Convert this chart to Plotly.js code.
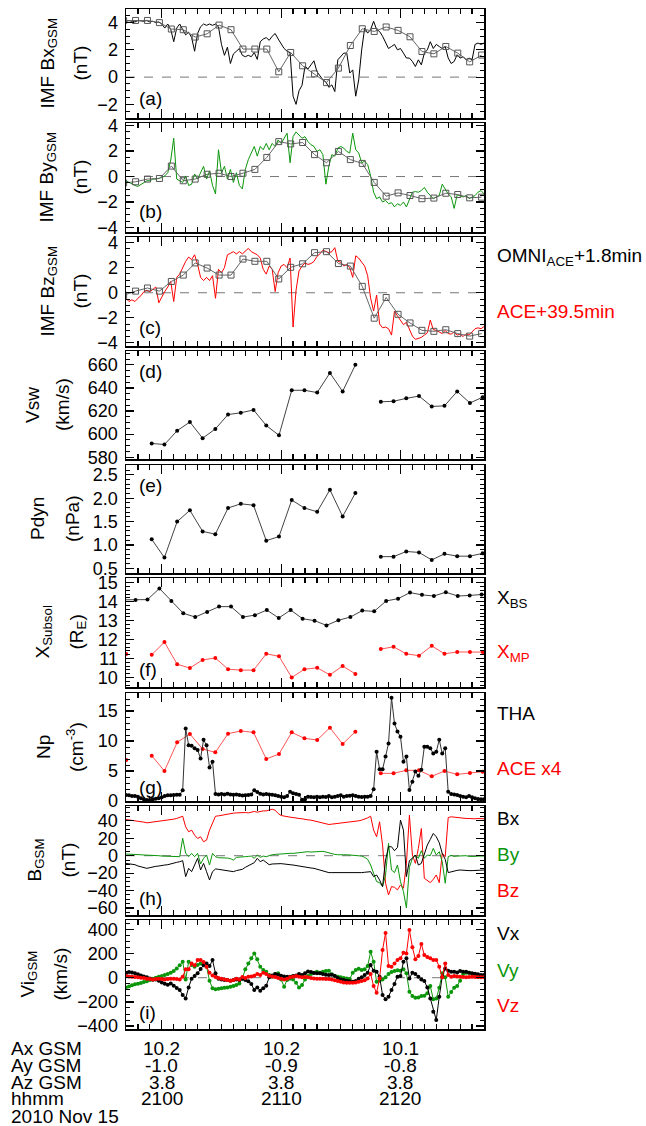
<!DOCTYPE html>
<html><head><meta charset="utf-8">
<script src="https://cdn.plot.ly/plotly-3.0.1.min.js"></script>
<style>html,body{margin:0;padding:0;background:#fff}</style>
</head><body><div id="chart" style="width:646px;height:1126px"></div>
<script>
// ---- sample time grids (minutes relative to 21:00 UT, 2010 Nov 15) ----
const aceStart = -3, aceStep = 0.25;      // ACE MAG (shifted) and THEMIS-A samples
const omniStart = -3.2, omniStep = 1;     // OMNI 1-min (+1.8 min)
const swStart = -2.98, swStep = 1.0667;   // ACE SWEPAM 64-s (+39.5 min)

// ---- (a) IMF Bx ----
const aceBx = [4.1,4.15,4.1,4.05,4.15,4.1,4.1,4.15,4.05,4.1,4.0,4.05,
 3.9,3.6,3.9,3.5,2.6,3.6,3.9,3.5,3.1,3.3,2.9,1.9,
 3.2,3.7,3.9,3.8,3.9,3.8,3.9,3.7,2.4,1.6,2.2,1.0,
 1.7,1.9,2.1,1.6,1.5,1.6,1.5,1.8,1.3,2.6,2.8,2.9,
 2.7,3.0,3.2,2.8,2.4,2.1,1.9,1.8,-1.4,-2.0,-1.0,-0.6,
 0.8,0.6,0.9,1.2,0.4,0.1,-0.2,-0.35,-0.75,
 -0.57,-1.06,1.27,1.5,1.76,1.76,0.3,0.53,-1.4,-0.2,2.0,3.6,
 3.23,3.5,4.1,3.5,3.35,3.0,2.6,2.1,2.25,2.4,2.0,2.1,
 1.76,1.4,1.4,1.15,0.78,1.27,0.9,1.76,2.0,2.6,2.1,2.4,
 2.25,2.1,2.25,1.4,1.0,1.15,1.64,1.4,1.5,1.27,1.4,1.27,
 2.4,2.5,2.4,2.5];
const omniBx = [4.15,4.16,4.16,4.0,3.53,3.48,2.94,3.18,3.82,3.48,2.06,2.06,2.06,0.39,1.81,0.83,0.24,-0.4,0.66,2.32,3.55,3.35,3.68,3.43,2.96,1.88,1.71,2.25,1.76,1.12,1.62];

// ---- (b) IMF By ----
const aceBy = [-0.33,-0.46,-0.6,-0.7,-0.77,-0.6,-0.46,-0.33,-0.33,-0.2,-0.2,-0.15,
 -0.08,0.05,0.3,1.3,3.0,-0.2,-0.33,-0.46,0.05,-0.7,-0.6,0.2,
 -0.2,0.3,0.8,-0.2,0.44,-0.7,-1.36,2.1,0.3,0.8,-0.2,0.56,
 -0.46,0.3,-0.7,-0.97,0.56,1.33,1.85,2.36,1.6,2.36,2.1,2.6,
 2.1,2.6,2.36,2.87,2.6,3.0,3.4,1.08,3.13,3.5,3.26,3.0,
 3.13,2.74,2.5,2.36,1.97,2.1,1.72,-0.6,0.82,
 1.72,1.6,2.23,2.36,2.23,1.97,1.85,3.4,2.1,1.85,1.08,1.2,
 0.95,0.05,-1.23,-1.74,-1.6,-2.0,-1.87,-2.13,-2.05,-2.38,-2.13,-2.26,
 -2.0,-2.38,-1.74,-1.23,-1.18,-1.23,-1.1,-0.85,-1.23,-1.49,-1.74,-1.6,
 -1.49,-0.6,-0.97,-1.36,-1.6,-2.5,-1.43,-1.49,-1.6,-1.49,-1.74,-1.6,
 -1.49,-1.23,-1.1,-1.36];
const omniBy = [-0.5,-0.41,-0.2,-0.15,0.82,-0.33,-0.2,0.18,0.26,0,0.26,0.56,1.5,2.74,2.56,2.67,1.72,1.08,1.97,1.33,1.03,-0.46,-1.54,-1.28,-1.49,-1.74,-1.69,-1.31,-1.41,-1.67,-1.62];

// ---- (c) IMF Bz ----
const aceBz = [-0.44,-0.7,-0.56,-0.7,-0.44,-0.23,0.08,0.2,0.08,0.28,0.46,-0.8,
 -0.3,0.1,0.46,0.9,-0.7,1.23,1.49,2.0,2.5,2.85,2.64,3.03,
 2.26,1.23,0.97,1.23,0.97,1.36,-0.44,1.87,1.6,2.0,3.03,3.15,
 3.28,3.1,3.28,3.1,3.36,3.54,3.28,3.15,3.03,2.77,1.87,1.49,
 2.13,1.87,0.1,1.6,2.13,2.26,2.0,2.77,-2.74,0.2,1.74,2.13,
 2.38,2.26,2.33,2.5,2.9,3.1,3.4,3.3,3.2,
 3.28,3.6,2.51,2.44,2.13,2.26,2.0,1.23,2.95,2.77,2.44,2.13,
 1.36,-0.44,-1.46,-0.18,-2.49,-2.8,-2.74,-2.87,-3.38,-1.46,-1.85,-2.23,
 -2.54,-2.36,-2.87,-3.46,-3.72,-3.64,-3.56,-3.38,-3.2,-2.18,-2.95,-3.0,
 -3.13,-3.26,-3.0,-3.26,-3.3,-3.13,-3.38,-3.3,-3.5,-3.26,-3.38,-3.13,
 -2.87,-2.8,-2.87,-2.7];
const omniBz = [-0.2,0.13,0.38,0.13,0.9,1.41,2.38,1.97,1.41,1.41,2.69,2.51,2.51,1.1,2.03,2.31,3.2,3.28,2.33,2.13,0.51,-2.03,-0.38,-1.72,-2.41,-3.0,-3.08,-2.95,-3.26,-3.46,-3.26];

// ---- (d) Vsw, (e) Pdyn : ACE SWEPAM ----
const vsw = [null,null,592,591,603,610.5,596.5,604.5,617,618.5,621,607.5,599,638,638,636,653,637,660,null,628,628.5,631,633,624,624.5,637,627,632];
const pdyn = [null,null,1.12,0.73,1.5,1.74,1.29,1.23,1.79,1.88,1.85,1.09,1.18,1.96,1.79,1.71,2.18,1.61,2.11,null,0.75,0.75,0.86,0.84,0.68,0.81,0.76,0.76,0.82];

// ---- (f) subsolar distances ----
const xBS = [14.1,14.09,14.11,14.7,14.04,13.39,13.19,13.46,13.74,13.74,13.19,13.29,13.56,13.14,13.56,13.1,13.0,12.75,13.02,13.19,13.53,13.49,14.04,14.16,14.48,14.36,14.3,14.5,14.3,14.33,14.38];
const xMP = [11.24,null,11.2,11.87,10.7,10.5,10.93,11.03,10.44,10.39,10.39,11.25,11.12,10.0,10.44,10.51,10.14,10.61,10.19,null,11.5,11.62,11.25,11.15,11.67,11.25,11.35,11.35,11.34];

// ---- (g) density ----
const thaNp = [1.0,0.94,0.83,0.83,0.72,0.44,0.28,0.17,0.17,0.28,0.39,0.44,
 0.61,0.83,0.94,0.94,1.0,1.05,1.05,1.8,12.1,9.3,9.2,8.8,
 8.5,7.1,10.2,9.3,5.6,6.55,1.15,1.1,1.15,1.1,1.2,1.1,
 1.05,1.1,1.0,0.9,0.94,1.0,1.1,1.8,1.5,1.2,1.1,1.15,
 1.1,1.05,0.94,0.83,0.72,0.61,0.83,1.55,1.28,1.15,1.05,0.2,
 0.3,0.72,0.67,0.61,0.72,0.61,0.72,0.67,0.83,
 0.61,0.72,0.83,0.94,0.72,0.83,0.89,0.94,0.83,0.72,0.67,0.72,
 0.72,0.83,1.94,8.2,5.3,5.3,7.4,9.6,17.2,12.9,11.6,10.7,
 6.55,7.4,1.83,3.2,4.9,4.2,5.2,9.05,9.05,8.8,7.9,8.2,
 10.2,7.9,8.8,1.55,1.15,1.1,1.0,0.83,0.72,0.61,0.83,0.61,
 0.44,0.33,0.28,0.28];
const aceNp4 = [6.83,null,7.56,5.0,9.78,11.17,8.67,8.11,11.22,11.67,11.44,7.0,7.83,11.44,10.44,10.17,12.22,9.5,11.56,null,4.61,4.61,5.11,5.11,4.11,5.0,4.44,4.67,4.89];

// ---- (h) THEMIS-A B GSM ----
const thBx = [-8.8,-9.1,-9.5,-10.3,-11.8,-13.0,-13.7,-14.5,-13.7,-12.6,-12.2,-11.8,
 -11.0,-10.7,-10.3,-9.1,-8.4,-7.6,-6.9,-5.7,-24.0,-14.5,-18.3,-10.7,
 -3.0,-16.4,-8.8,-18.3,-27.8,-18.3,-15.2,-15.6,-16.0,-16.4,-16.8,-17.5,
 -18.3,-17.1,-16.4,-15.6,-13.3,-11.8,-9.5,-8.0,-3.0,-6.9,-5.0,-8.0,
 -10.3,-9.5,-9.1,-8.8,-9.1,-9.5,-9.5,-10.3,-10.7,-11.4,-11.8,-12.6,
 -13.3,-13.7,-14.1,-14.5,-15.6,-16.4,-17.5,-18.3,-19.4,
 -19.4,-19.4,-19.4,-19.4,-19.8,-20.2,-20.2,-19.8,-19.8,-19.4,-19.4,-19.0,
 -18.7,-18.3,-24.0,-22.1,-27.8,-35.4,-5.0,10.3,10.3,5.7,9.5,40.8,
 29.3,-24.0,-5.7,-3.0,0.8,-10.7,-8.8,1.9,12.2,18.7,25.5,21.7,
 14.9,2.7,-4.2,-19.4,-18.3,-17.1,-16.8,-16.4,-16.8,-17.1,-17.1,-17.1,
 -16.8,-16.4,-16.4,-16.4];
const thBy = [1.9,1.9,1.5,1.5,1.1,1.1,0.8,0.8,0.4,0.4,0,0,
 -0.4,-0.4,-0.4,-0.8,-0.8,-1.1,-1.1,20,3,-1.1,2.7,-1.1,
 2.7,-9.5,-3.0,0.8,-10.7,2.7,-1.1,-2.3,-2.3,-2.3,-2.7,-3.4,
 -5.0,-1.9,-1.9,-1.5,-1.1,-0.8,-0.4,-3.0,0.8,-1.9,-0.4,-1.1,
 0.4,1.1,1.5,1.9,1.9,2.3,2.7,2.7,2.7,3.0,3.4,3.8,
 4.6,4.6,4.2,4.6,4.6,5.0,5.0,4.2,3.0,
 1.9,1.5,1.1,0.8,1.1,1.1,0.8,0.8,0.4,0,-0.4,-1.9,
 -4.2,-10.7,-19.4,-29.7,-30.9,-35.4,-22.1,14.1,-16.4,-19.4,-10.7,-29.7,
 -41.1,-60,-13.3,-3.0,0.8,-3.0,5.7,-3.0,0.8,0,8.4,0.8,
 4.6,-6.9,-31.6,-1.1,0.4,-0.8,-0.4,0,0,0,-0.8,-1.1,
 -0.8,-0.4,-0.4,-0.4];
const thBz = [41.5,41.1,40.8,40.0,39.2,38.9,38.5,37.7,38.1,38.9,39.6,40.0,
 40.4,40.8,41.1,41.5,41.9,42.7,43.8,45.3,33.1,27.4,29.3,23.6,
 19.8,21.7,16.0,17.9,29.3,37.0,45.3,45.7,46.5,46.9,47.6,48.0,
 48.8,49.1,49.5,49.1,49.5,49.1,49.9,50.7,49.9,51.0,51.4,51.4,
 52.2,53.3,52.2,48.4,46.1,45.3,44.6,44.2,43.8,43.0,42.7,42.3,
 41.5,41.1,40.8,40.0,38.9,37.7,37.0,36.2,35.8,
 36.2,36.6,37.0,37.0,37.7,38.1,38.9,39.2,39.6,40.0,40.8,41.9,
 43.4,45.3,29.3,21.7,38.9,12.2,-31.6,-45,-35.4,-36.2,-39.2,-33.5,
 -37.3,-8.8,46.5,0.8,-8.8,8.4,31.2,-25.9,-28.6,-30.9,-27.0,-22.1,
 -30.9,2.7,-1.1,43.8,44.6,44.2,43.4,43.0,43.0,42.7,42.7,42.3,
 42.3,42.7,42.7,42.3];

// ---- (i) THEMIS-A ion velocity GSM ----
const thVx = [36,47,44,36,28,19,11,3,-6,-17,-14,-25,
 -39,-50,-58,-47,-66,-85,-102,-143,-171,-80,-8,14,
 36,72,102,118,96,146,36,-8,-14,-19,-19,-25,
 -19,-14,-19,-8,-19,-30,-52,-102,-80,-107,-88,-66,
 3,19,30,25,17,11,8,8,14,19,30,22,
 36,52,47,39,36,36,30,25,22,
 25,14,-3,-14,-19,-25,-30,-33,-28,-8,3,22,
 41,105,58,50,8,-143,-179,-157,-102,-52,8,14,
 132,160,-6,41,30,8,-14,-28,-80,-171,-281,-350,
 -157,8,77,58,50,50,44,55,50,50,41,36,
 33,28,22,22];
const thVy = [-80,-72,-63,-55,-50,-44,-36,-30,-19,-8,0,8,
 14,22,30,41,55,77,102,132,-14,132,105,91,
 105,118,124,91,-25,-88,-96,-91,-88,-83,-80,-74,
 -69,-61,-47,-6,69,118,160,201,152,91,63,50,
 22,8,30,36,-14,-74,-19,-8,-14,-41,-80,-61,
 -14,14,30,41,50,41,50,55,58,
 28,17,8,3,-3,-6,-11,41,63,74,63,69,
 96,215,132,-33,-25,-14,3,30,47,55,61,58,
 69,36,-116,-152,-165,-163,-152,-149,-129,-69,-179,-171,
 -83,36,3,-157,-118,-83,-69,-25,30,41,41,33,
 25,17,14,14];
const thVz = [14,11,8,6,3,0,-3,-8,-11,-14,-11,-8,
 -11,-14,-11,-8,-8,-11,-14,8,69,69,118,102,
 146,146,129,91,41,19,6,-3,-8,-14,-19,-25,
 -19,-8,-14,6,-3,8,11,17,30,22,41,30,
 17,11,6,-3,-8,-14,-8,3,8,14,8,3,
 6,3,-3,-6,-8,-8,-8,-11,-11,
 -14,-22,-28,-33,-39,-41,-41,-41,-39,-33,-28,-22,
 -6,30,-69,-124,-6,229,370,96,91,118,146,160,
 207,201,394,251,152,179,278,187,171,160,146,146,
 91,3,118,22,8,14,11,8,6,3,6,8,
 6,3,3,3];

// ---- bottom tick annotation rows ----
const tickTimes = [0, 10, 20];
const axGsm = ['10.2','10.2','10.1'];
const ayGsm = ['-1.0','-0.9','-0.8'];
const azGsm = ['3.8','3.8','3.8'];
const hhmm = ['2100','2110','2120'];
const rowNames = ['Ax GSM','Ay GSM','Az GSM','hhmm'];
const dateLabel = '2010 Nov 15';

// ---- build ----
const grid = (arr, s, d) => arr.map((_, i) => +(s + i * d).toFixed(4));
const tAce = grid(aceBx, aceStart, aceStep);
const tOmni = grid(omniBx, omniStart, omniStep);
const tSw = grid(vsw, swStart, swStep);

const FONT = 'Liberation Sans, Arial, Helvetica, sans-serif';
const GREEN = '#0a960a', RED = '#ff0000';
const sfx = k => (k === 1 ? '' : String(k));

function line(x, y, k, color, width, extra) {
  return Object.assign({x, y, xaxis: 'x' + sfx(k), yaxis: 'y' + sfx(k), type: 'scatter',
    mode: 'lines', line: {color, width: width || 1}, hoverinfo: 'skip', connectgaps: false}, extra || {});
}
function dots(x, y, k, lc, mc, ms) {
  return line(x, y, k, lc, 1, {mode: 'lines+markers', marker: {color: mc, size: ms || 4, symbol: 'circle'}});
}
const omniStyle = {mode: 'lines+markers', marker: {symbol: 'square-open', size: 6, color: '#555', line: {width: 1, color: '#555'}}};

const traces = [
  line(tAce, aceBx, 1, '#000', 1),
  line(tOmni, omniBx, 1, '#666', 1, omniStyle),
  line(tAce, aceBy, 2, GREEN, 1),
  line(tOmni, omniBy, 2, '#666', 1, omniStyle),
  line(tAce, aceBz, 3, RED, 1),
  line(tOmni, omniBz, 3, '#666', 1, omniStyle),
  dots(tSw, vsw, 4, '#444', '#000', 4),
  dots(tSw, pdyn, 5, '#444', '#000', 4),
  dots(tOmni, xBS, 6, '#444', '#000', 4),
  dots(tSw, xMP, 6, '#ff5555', RED, 4),
  dots(tSw, aceNp4, 7, '#ff5555', RED, 4),
  dots(tAce, thaNp, 7, '#333', '#000', 4),
  line(tAce, thBz, 8, RED, 1),
  line(tAce, thBy, 8, GREEN, 1),
  line(tAce, thBx, 8, '#000', 1),
  dots(tAce, thVy, 9, GREEN, GREEN, 4),
  dots(tAce, thVx, 9, '#000', '#000', 4),
  dots(tAce, thVz, 9, RED, RED, 4),
];

// layout geometry
const W = 646, H = 1126, L = 126, R = 484, T = 9, B = 1029;
const panelPx = [[9,118],[123,232],[237,346],[351,459],[465,573],[578,687],[693,801],[806,915],[920,1029]];
const toPy = py => (B - py) / (B - T);
const toPx = px => (px - L) / (R - L);

const yCfg = [
  {range: [-3, 5], dtick: 2, minor: 0.5},
  {range: [-4.35, 4.2], dtick: 2, minor: 0.5},
  {range: [-4.25, 4.45], dtick: 2, minor: 0.5},
  {range: [578.5, 672], dtick: 20, minor: 5},
  {range: [0.4, 2.71], dtick: 0.5, minor: 0.1, fmt: '.1f'},
  {range: [9.5, 15.25], dtick: 1, minor: 0.2},
  {range: [0, 18], dtick: 5, minor: 1},
  {range: [-68, 57], dtick: 20, minor: 5},
  {range: [-424, 477], dtick: 200, minor: 50},
];

const layout = {
  width: W, height: H, autosize: false,
  margin: {l: L, r: W - R, t: T, b: H - B, pad: 0},
  paper_bgcolor: '#fff', plot_bgcolor: '#fff',
  showlegend: false,
  font: {family: FONT, size: 18, color: '#000'},
  shapes: [], annotations: []
};

panelPx.forEach((p, idx) => {
  const k = idx + 1;
  const dom = [toPy(p[1]), toPy(p[0])];
  layout['xaxis' + sfx(k)] = {
    domain: [0, 1], anchor: 'y' + sfx(k), range: [-3, 27],
    showline: true, linewidth: 1.5, linecolor: '#000', mirror: 'allticks',
    ticks: 'inside', ticklen: 9, tickwidth: 1.2, tickcolor: '#000', tick0: 0, dtick: 10,
    minor: {ticks: 'inside', dtick: 1, ticklen: 5, tickwidth: 1.2, tickcolor: '#000'},
    showticklabels: false, showgrid: false, zeroline: false, fixedrange: true
  };
  const c = yCfg[idx];
  layout['yaxis' + sfx(k)] = {
    domain: dom, anchor: 'x' + sfx(k), range: c.range,
    showline: true, linewidth: 1.5, linecolor: '#000', mirror: 'allticks',
    ticks: 'inside', ticklen: 8, tickwidth: 1.2, tickcolor: '#000', tick0: 0, dtick: c.dtick,
    minor: {ticks: 'inside', dtick: c.minor, ticklen: 4, tickwidth: 1, tickcolor: '#000'},
    tickformat: c.fmt || '', ticklabelstandoff: 3,
    tickfont: {family: FONT, size: 18, color: '#000'},
    showgrid: false, zeroline: false, fixedrange: true
  };
});

// dashed zero lines
[1, 2, 3, 8, 9].forEach(k => layout.shapes.push({
  type: 'line', xref: 'x' + sfx(k) + ' domain', x0: 0, x1: 1, yref: 'y' + sfx(k), y0: 0, y1: 0,
  line: {color: '#777', width: 1, dash: 'dash'}, layer: 'below'
}));

const ann = (text, x, y, o) => layout.annotations.push(Object.assign({
  text, x, y, xref: 'paper', yref: 'paper', showarrow: false, borderpad: 0,
  font: {family: FONT, size: 19, color: '#000'}, xanchor: 'center', yanchor: 'middle'
}, o || {}));

// y titles (two rotated lines each)
const yTitles = [
  ['IMF Bx<sub>GSM</sub>', '(nT)', 48, 80],
  ['IMF By<sub>GSM</sub>', '(nT)', 48, 80],
  ['IMF Bz<sub>GSM</sub>', '(nT)', 48, 80],
  ['Vsw', '(km/s)', 33, 63],
  ['Pdyn', '(nPa)', 37, 72],
  ['X<sub>Subsol</sub>', '(R<sub>E</sub>)', 43, 77],
  ['Np', '(cm<sup>-3</sup>)', 43, 75],
  ['B<sub>GSM</sub>', '(nT)', 35, 68],
  ['Vi<sub>GSM</sub>', '(km/s)', 28, 60],
];
yTitles.forEach((t, idx) => {
  const yc = toPy((panelPx[idx][0] + panelPx[idx][1]) / 2);
  ann(t[0], toPx(t[2]), yc, {textangle: -90});
  ann(t[1], toPx(t[3]), yc, {textangle: -90});
});

// panel letters
const letters = ['(a)','(b)','(c)','(d)','(e)','(f)','(g)','(h)','(i)'];
const letterPy = [98, 212, 327, 372, 485, 670, 787, 898, 1012];
letters.forEach((s, i) => ann(s, toPx(138), toPy(letterPy[i]), {xanchor: 'left'}));

// right-side legend text
const rightLabels = [
  ['OMNI<sub>ACE</sub>+1.8min', '#000', 256.7],
  ['ACE+39.5min', RED, 311.7],
  ['X<sub>BS</sub>', '#000', 599],
  ['X<sub>MP</sub>', RED, 653],
  ['THA', '#000', 713],
  ['ACE x4', RED, 768],
  ['Bx', '#000', 818],
  ['By', GREEN, 855],
  ['Bz', RED, 890],
  ['Vx', '#000', 933],
  ['Vy', GREEN, 970],
  ['Vz', RED, 1005],
];
rightLabels.forEach(r => ann(r[0], toPx(496), toPy(r[2]), {xanchor: 'left', font: {family: FONT, size: 19, color: r[1]}}));

// bottom tick rows
const rowPy = [1048, 1065, 1082, 1098];
const rows = [axGsm, ayGsm, azGsm, hhmm];
rows.forEach((vals, r) => {
  ann(rowNames[r], toPx(10), toPy(rowPy[r]), {xanchor: 'left'});
  tickTimes.forEach((t, j) => layout.annotations.push({
    text: vals[j], x: t, xref: 'x9', y: toPy(rowPy[r]), yref: 'paper', showarrow: false, borderpad: 0,
    xanchor: 'center', yanchor: 'middle', font: {family: FONT, size: 19, color: '#000'}
  }));
});
ann(dateLabel, toPx(10), toPy(1116), {xanchor: 'left'});

Plotly.newPlot('chart', traces, layout, {displayModeBar: false, staticPlot: true});
</script>
</body></html>
